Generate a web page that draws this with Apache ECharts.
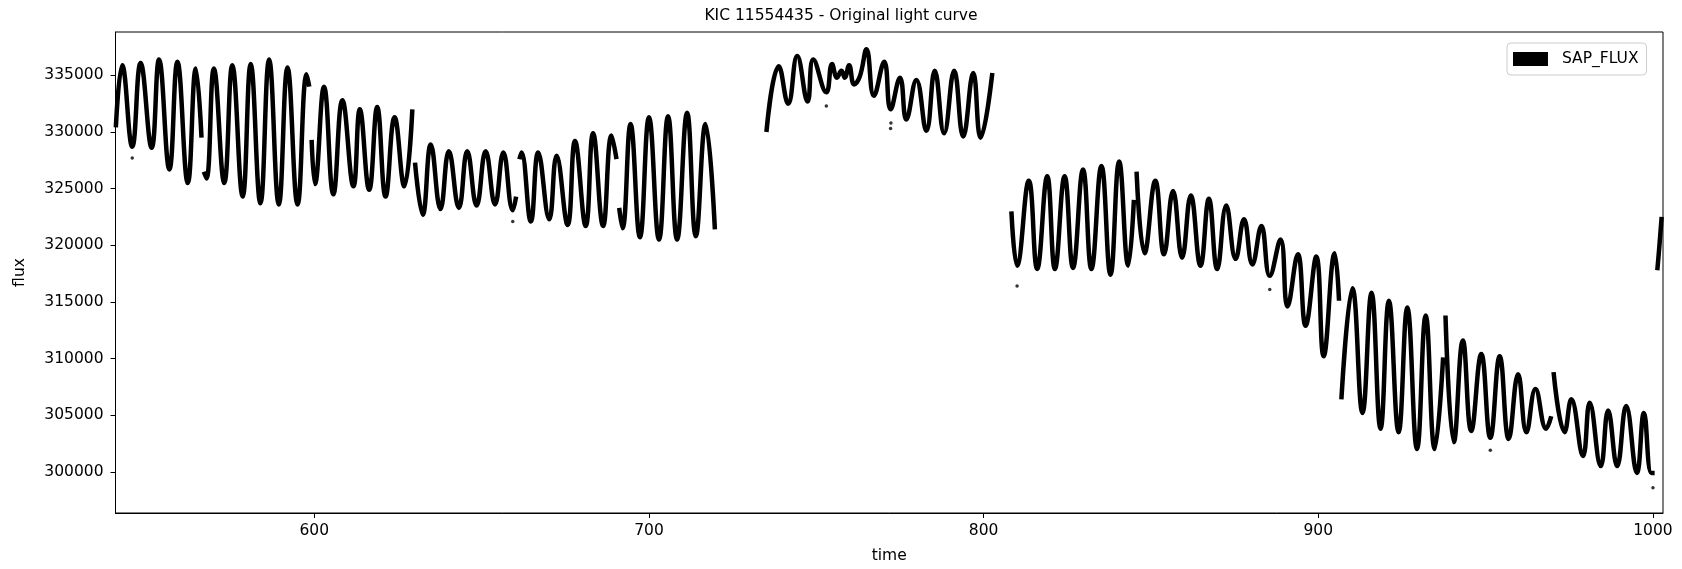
<!DOCTYPE html>
<html><head><meta charset="utf-8">
<script src="https://cdn.jsdelivr.net/npm/echarts@6/dist/echarts.min.js"></script>
<style>html,body{margin:0;padding:0;background:#fff}#c{width:1682px;height:569px}</style>
</head><body><div id="c"></div>
<script>
const chartTitle = 'KIC 11554435 - Original light curve';
const seriesName = 'SAP_FLUX';
const xTicks = [600, 700, 800, 900, 1000];
const yTicks = [300000, 305000, 310000, 315000, 320000, 325000, 330000, 335000];

// [time, flux] (extrema of each oscillation), one array per continuous stretch
const seg1 = [[540.7,330400],[542.6,335900],[545.6,328700],[548.1,336100],[551.4,328600],[553.6,336400],[556.7,326700],[559.1,336200],[562.2,325500],[564.6,335600],[566.3,329500]];
const seg2 = [[567.0,326500],[567.8,325900],[570.0,335600],[573.1,325500],[575.5,335900],[578.6,324300],[581.0,336000],[583.9,323700],[586.5,336400],[589.4,323600],[592.0,335700],[595.0,323600],[597.7,335100],[598.5,334000]];
const seg3 = [[599.2,329300],[600.2,325400],[602.9,334000],[605.7,324500],[608.4,332800],[611.7,325200],[613.6,332000],[616.4,324900],[618.8,332200],[621.3,324300],[624.0,331300],[626.9,325200],[629.3,332000]];
const seg4 = [[630.1,327300],[632.4,322700],[634.8,328900],[637.7,323200],[640.2,328300],[643.2,323300],[645.7,328300],[648.5,323500],[651.2,328300],[654.0,323600],[656.5,328200],[659.3,323100],[660.3,324300]];
const seg5 = [[661.3,327600],[661.9,328200],[664.7,322100],[666.9,328200],[670.2,322300],[672.4,327900],[675.7,321800],[677.9,329200],[681.1,321700],[683.3,329900],[686.3,321700],[688.8,329700],[690.3,327600]];
const seg6 = [[691.1,323300],[692.1,321500],[694.5,330700],[697.3,320700],[700.0,331300],[703.0,320500],[705.7,331400],[708.4,320500],[711.4,331700],[714.0,320800],[716.9,330700],[719.7,321400]];
const seg7 = [[735.1,330000],[738.8,335800],[741.6,332500],[744.3,336700],[747.4,332700],[749.1,336400],[753.0,333500],[754.7,336000],[756.2,334800],[757.5,335400],[758.5,334800],[759.8,335900],[761.3,334200],[763.0,334900],[765.0,337300],[767.2,333200],[770.3,336200],[772.2,332000],[775.0,334800],[776.9,331100],[779.9,334600],[782.9,330100],[785.4,335400],[788.2,329900],[791.2,335400],[793.9,329600],[796.9,335200],[799.1,329500],[802.6,335200]];
const seg8 = [[808.3,323000],[810.0,318200],[813.5,325700],[816.0,317900],[819.0,326100],[821.3,317900],[824.2,326100],[826.7,318000],[829.7,326700],[832.2,317900],[835.2,327000],[837.9,317400],[840.5,327400],[843.2,318200],[844.9,324000]];
const seg9 = [[845.7,326500],[848.1,319300],[851.3,325700],[853.9,319200],[856.6,324800],[859.3,318900],[861.9,324400],[864.8,318200],[867.3,324100],[869.8,317900],[872.5,323500],[875.3,318800],[877.8,322300],[880.3,318300],[883.0,321700],[885.5,317300],[888.7,320500],[890.8,314600],[893.9,319200],[896.2,312900],[899.4,319000],[901.6,310200],[904.9,319300],[906.2,315100]];
const seg10 = [[906.9,306400],[910.2,316200],[913.2,305200],[915.9,315800],[918.6,303800],[921.1,315100],[924.0,303500],[926.6,314500],[929.5,302000],[932.1,313800],[934.8,302000],[937.3,310100]];
const seg11 = [[938.0,313800],[940.5,302600],[943.2,311600],[945.7,303600],[948.7,310400],[951.4,303000],[954.2,310200],[956.9,302900],[959.7,308600],[962.2,303500],[964.9,307300],[968.1,303800],[969.6,304900]];
const seg12 = [[970.3,308800],[973.6,303500],[975.6,306400],[979.1,301400],[981.1,306100],[984.4,300500],[986.6,305400],[989.3,300500],[992.0,305800],[995.2,299900],[997.3,305200],[999.5,299900],[1000.5,299900]];
const seg13 = [[1001.3,317800],[1001.8,319500],[1002.6,322500]];
const outliers = [[545.6,327700],[659.3,322100],[753.0,332300],[772.2,330300],[772.3,330800],[810.0,316400],[885.5,316100],[951.4,301900],[1000.0,298600]];

const segments = [seg1, seg2, seg3, seg4, seg5, seg6, seg7, seg8, seg9, seg10, seg11, seg12, seg13];
const FONT = 'DejaVu Sans';
const FS = 15.5;

const series = segments.map(s => ({
  name: seriesName, type: 'line', data: s, smooth: 0.45,
  symbol: 'none', showSymbol: false,
  lineStyle: { color: '#000', width: 4.5 }, itemStyle: { color: '#000' },
  animation: false, z: 3
}));
series.push({ name: 'outlier', type: 'scatter', data: outliers, symbolSize: 3.5,
  itemStyle: { color: '#000' }, animation: false, silent: true });

const chart = echarts.init(document.getElementById('c'), null, { renderer: 'canvas' });
chart.setOption({
  backgroundColor: '#fff',
  animation: false,
  title: { text: chartTitle, left: 'center', top: 3,
    textStyle: { fontFamily: FONT, fontSize: FS, fontWeight: 'normal', color: '#000' } },
  legend: { data: [{ name: seriesName, icon: 'path://M0 0H35V14H0Z M44 14H44.01V14.01H44Z' }], left: 1507, top: 43,
    itemWidth: 44, itemHeight: 14, padding: [8, 8, 8, 6],
    borderColor: '#ccc', borderWidth: 1, borderRadius: 4,
    itemStyle: { color: '#000' },
    textStyle: { fontFamily: FONT, fontSize: FS, color: '#000' } },
  grid: { left: 115.5, right: 19, top: 32, bottom: 55, show: true, borderColor: '#000', borderWidth: 1, containLabel: false },
  xAxis: {
    type: 'value', min: 540.6, max: 1003.0,
    name: 'time', nameLocation: 'middle', nameGap: 35,
    nameTextStyle: { fontFamily: FONT, fontSize: FS, color: '#000' },
    axisLine: { show: true, onZero: false, lineStyle: { color: '#000', width: 1 } },
    axisTick: { show: true, length: 5, inside: false, customValues: xTicks, lineStyle: { color: '#000' } },
    axisLabel: { customValues: xTicks, margin: 10, fontFamily: FONT, fontSize: FS, color: '#000', formatter: v => String(v) },
    splitLine: { show: false }
  },
  yAxis: {
    type: 'value', min: 296360, max: 338830,
    name: 'flux', nameLocation: 'middle', nameGap: 88, nameRotate: 90,
    nameTextStyle: { fontFamily: FONT, fontSize: FS, color: '#000' },
    axisLine: { show: true, onZero: false, lineStyle: { color: '#000', width: 1 } },
    axisTick: { show: true, length: 5, inside: false, customValues: yTicks, lineStyle: { color: '#000' } },
    axisLabel: { customValues: yTicks, margin: 12, fontFamily: FONT, fontSize: FS, color: '#000', formatter: v => String(v) },
    splitLine: { show: false }
  },
  series: series
});
</script>
</body></html>
